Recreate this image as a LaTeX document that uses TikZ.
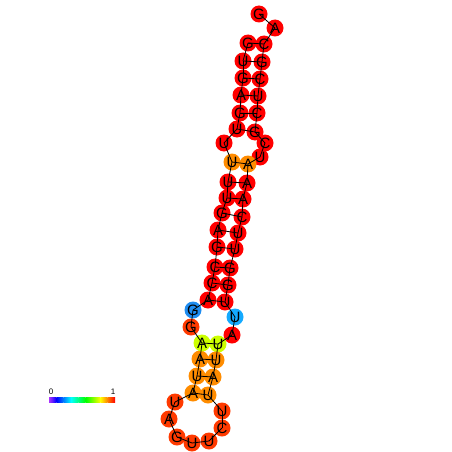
\documentclass[tikz,border=0pt]{standalone}
\usepackage{fontspec}
\newfontfamily\arialf{Liberation Sans}
\definecolor{cR}{HTML}{FF0000}
\definecolor{cRO}{HTML}{FF3A00}
\definecolor{cO}{HTML}{FF8C00}
\definecolor{cYG}{HTML}{CCFF00}
\definecolor{cB}{HTML}{1E8CF0}
\definecolor{cC}{HTML}{14AAFF}
\definecolor{hb0}{Hsb}{275,0.8,1}
\definecolor{hb1}{Hsb}{240,1,1}
\definecolor{hb2}{Hsb}{210,1,1}
\definecolor{hb3}{Hsb}{180,1,1}
\definecolor{hb4}{Hsb}{150,1,1}
\definecolor{hb5}{Hsb}{120,1,1}
\definecolor{hb6}{Hsb}{90,1,1}
\definecolor{hb7}{Hsb}{60,1,1}
\definecolor{hb8}{Hsb}{30,1,1}
\definecolor{hb9}{Hsb}{0,1,1}
\begin{document}
\begin{tikzpicture}[x=1pt,y=-1pt,
  nt/.style={circle,inner sep=0pt,minimum size=17pt,draw=none},
  bond/.style={line width=0.8pt,black},
  lett/.style={inner sep=0pt,font=\arialf\fontsize{15}{15}\selectfont},
  cbl/.style={inner sep=0pt,font=\arialf\fontsize{8}{8}\selectfont}]
\useasboundingbox (0,0) rectangle (452,452);
% circles
\foreach \i/\x/\y/\c in {
 1/259/14/cR, 2/275/28/cR, 3/264/44/cR, 4/262/62/cR, 5/260/79/cR,
 6/258/96/cR, 7/257/113/cR, 8/255/132/cR, 9/265/143/cR, 10/260/157/cR,
 11/248/164/cO, 12/247/183/cR, 13/243/199/cR, 14/242/217/cR, 15/238/233/cR,
 16/235/249/cR, 17/230/268/cR, 18/228/285/cR, 19/225/302/cR, 20/235/317/cC,
 21/232/335/cR, 22/218/344/cYG, 23/216/360/cO, 24/213/377/cO, 25/208/395/cO,
 26/222/411/cRO, 27/222/428/cRO, 28/209/441/cRO, 29/192/443/cRO, 30/177/437/cRO,
 31/169/419/cRO, 32/175/402/cRO, 33/193/393/cO, 34/197/376/cO, 35/200/359/cO,
 36/202/343/cYG, 37/191/327/cRO, 38/193/310/cB, 39/208/300/cR, 40/212/283/cR,
 41/215/267/cR, 42/217/247/cR, 43/218/230/cR, 44/222/213/cR, 45/227/198/cR,
 46/228/182/cR, 47/232/162/cO, 48/224/143/cR, 49/237/129/cR, 50/240/113/cR,
 51/241/95/cR, 52/243/78/cR, 53/243/61/cR, 54/248/43/cR}
  \node[nt,fill=\c] (n\i) at (\x,\y) {};
% backbone
\foreach \i [evaluate=\i as \j using int(\i+1)] in {1,...,53}
  \draw[bond] (n\i.center) -- (n\j.center);
% base pairs
\foreach \a/\b in {3/54,4/53,5/52,6/51,7/50,8/49,11/47,12/46,13/45,14/44,
  15/43,16/42,17/41,18/40,19/39,22/36,23/35,24/34,25/33}
  \draw[bond] (n\a.center) -- (n\b.center);
% letters
\foreach \i/\s in {1/G,2/A,3/C,4/G,5/C,6/U,7/C,8/G,9/C,10/U,11/A,12/A,13/A,
  14/C,15/U,16/U,17/G,18/G,19/U,20/U,21/A,22/U,23/U,24/A,25/U,26/U,27/C,
  28/U,29/U,30/G,31/A,32/U,33/A,34/U,35/A,36/A,37/G,38/G,39/A,40/C,41/C,
  42/G,43/A,44/G,45/U,46/U,47/U,48/U,49/U,50/G,51/A,52/G,53/U,54/G}
  \node[lett] (t\i) at (n\i.center) {\s};
% colour bar
\foreach \k [evaluate=\k as \m using int(\k+1)] in {0,...,8}
  \shade[left color=hb\k,right color=hb\m]
    ({49+\k*66/9},397) rectangle ({49+(\k+1)*66/9},402.5);
\node[cbl] (c0) at (51,392) {0};
\node[cbl] (c1) at (113,392) {1};
\end{tikzpicture}
\end{document}
